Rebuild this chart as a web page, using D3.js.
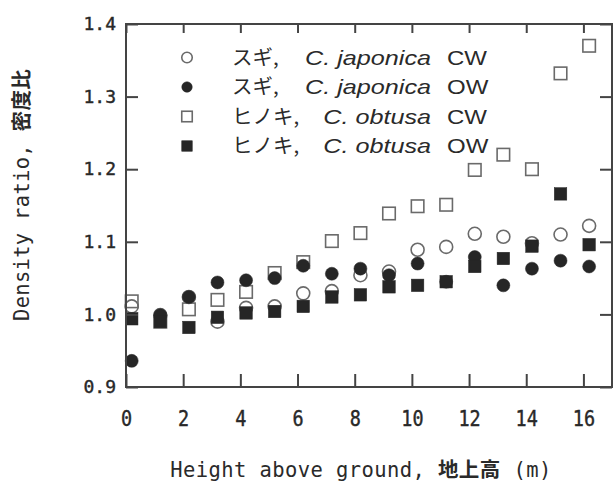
<!DOCTYPE html>
<html>
<head>
<meta charset="utf-8">
<script src="https://cdn.jsdelivr.net/npm/d3@7"></script>
<style>
  body { margin: 0; background: #fff; }
  text { fill: #2a2a2a; }
</style>
</head>
<body>
<div id="chart"></div>
<script>
// heights above ground (m)
const HEIGHTS = [0.2, 1.2, 2.2, 3.2, 4.2, 5.2, 6.2, 7.2, 8.2, 9.2, 10.2, 11.2, 12.2, 13.2, 14.2, 15.2, 16.2];
// density ratios
const JAPONICA_CW = [1.011, 0.999, 1.024, 0.990, 1.009, 1.011, 1.029, 1.032, 1.054, 1.059, 1.089, 1.093, 1.111, 1.107, 1.098, 1.110, 1.122];
const JAPONICA_OW = [0.936, 0.999, 1.024, 1.044, 1.047, 1.050, 1.067, 1.056, 1.063, 1.054, 1.070, 1.045, 1.079, 1.040, 1.063, 1.074, 1.066];
const OBTUSA_CW   = [1.018, 0.990, 1.007, 1.020, 1.031, 1.057, 1.072, 1.101, 1.112, 1.139, 1.149, 1.151, 1.199, 1.220, 1.200, 1.332, 1.370];
const OBTUSA_OW   = [0.994, 0.990, 0.982, 0.996, 1.002, 1.004, 1.011, 1.024, 1.027, 1.038, 1.040, 1.045, 1.066, 1.077, 1.094, 1.166, 1.096];

const X_TICKS = [0, 2, 4, 6, 8, 10, 12, 14, 16];
const Y_TICKS = [0.9, 1.0, 1.1, 1.2, 1.3, 1.4];

const LEGEND_JA = ["スギ,", "スギ,", "ヒノキ,", "ヒノキ,"];
const LEGEND_SP = ["C. japonica", "C. japonica", "C. obtusa", "C. obtusa"];
const LEGEND_WOOD = ["CW", "OW", "CW", "OW"];

/* ---------------------------------- */
const W = 615, H = 482;
const M = {left: 126, right: 612, top: 24, bottom: 387};
const MONO = "'DejaVu Sans Mono', 'Noto Sans CJK JP', monospace";

const x = d3.scaleLinear().domain([0, 17]).range([M.left, M.right]);
const y = d3.scaleLinear().domain([0.9, 1.4]).range([M.bottom, M.top]);

const svg = d3.select("#chart").append("svg")
              .attr("width", W)
              .attr("height", H);

// series, open ones first so that filled marks sit on top
const series = [
    {vals: JAPONICA_CW, shape: "circle", filled: false},
    {vals: OBTUSA_CW,   shape: "square", filled: false},
    {vals: JAPONICA_OW, shape: "circle", filled: true},
    {vals: OBTUSA_OW,   shape: "square", filled: true},
];

var drawMark = function(g, shape, filled, size){
    var el;
    if (shape === "circle") {
        el = g.append("circle").attr("r", size/2);
    } else {
        el = g.append("rect").attr("x", -size/2).attr("y", -size/2)
              .attr("width", size).attr("height", size);
    }
    if (filled) {
        el.attr("fill", "#262626").attr("stroke", "#262626").attr("stroke-width", 0.5);
    } else {
        el.attr("fill", "none").attr("stroke", "#6a6a6a").attr("stroke-width", 1.6);
    }
};

const marks = svg.append("g");
series.forEach(function(s){
    s.vals.forEach(function(v, i){
        var g = marks.append("g")
                     .attr("transform", "translate("+x(HEIGHTS[i])+","+y(v)+")");
        drawMark(g, s.shape, s.filled, s.shape === "circle" ? 13 : 12.5);
    });
});

// axes, ticks pointing inward
var styleAxis = function(g){
    g.select(".domain").remove();
    g.selectAll("line").attr("stroke", "#444").attr("stroke-width", 2);
};

svg.append("g")
   .attr("transform", "translate("+M.left+",0)")
   .call(d3.axisLeft(y).tickValues(Y_TICKS).tickFormat(d3.format(".1f"))
           .tickSizeInner(-12).tickSizeOuter(0).tickPadding(10))
   .call(styleAxis)
   .selectAll("text")
   .attr("font-family", MONO).attr("font-size", 18).attr("fill", "#222")
   .attr("stroke", "#222").attr("stroke-width", 0.4);

svg.append("g")
   .attr("transform", "translate("+M.right+",0)")
   .call(d3.axisRight(y).tickValues(Y_TICKS).tickFormat("")
           .tickSizeInner(-12).tickSizeOuter(0))
   .call(styleAxis);

svg.append("g")
   .attr("transform", "translate(0,"+M.bottom+")")
   .call(d3.axisBottom(x).tickValues(X_TICKS).tickFormat(d3.format("d"))
           .tickSizeInner(-13).tickSizeOuter(0).tickPadding(24))
   .call(styleAxis)
   .selectAll("text")
   .attr("font-family", MONO).attr("font-size", 21).attr("fill", "#222")
   .attr("stroke", "#222").attr("stroke-width", 0.4)
   .attr("transform", "scale(0.88,1)");

svg.append("g")
   .attr("transform", "translate(0,"+M.top+")")
   .call(d3.axisTop(x).tickValues(X_TICKS).tickFormat("")
           .tickSizeInner(-9).tickSizeOuter(0))
   .call(styleAxis);

// frame
svg.append("rect")
   .attr("x", M.left).attr("y", M.top)
   .attr("width", M.right-M.left).attr("height", M.bottom-M.top)
   .attr("fill", "none").attr("stroke", "#444").attr("stroke-width", 2);

// axis titles
const xt = svg.append("text")
              .attr("x", 361).attr("y", 477)
              .attr("text-anchor", "middle")
              .attr("font-family", MONO).attr("font-size", 20.5)
              .attr("letter-spacing", 0.4);
xt.append("tspan").text("Height above ground, ");
xt.append("tspan").attr("font-weight", "bold").attr("font-family", "'Noto Sans CJK JP'").text("地上高");
xt.append("tspan").text(" (m)");

const yt = svg.append("text")
              .attr("transform", "translate(28.5,195) rotate(-90)")
              .attr("text-anchor", "middle")
              .attr("font-family", MONO).attr("font-size", 20.5)
              .attr("letter-spacing", 0.3);
yt.append("tspan").text("Density ratio, ");
yt.append("tspan").attr("font-weight", "bold").attr("font-family", "'Noto Sans CJK JP'").text("密度比");

// legend
const LEG_Y = [57.5, 87, 116.5, 146];
const legend = svg.append("g");
[JAPONICA_CW, JAPONICA_OW, OBTUSA_CW, OBTUSA_OW].forEach(function(vals, i){
    var s = series.find((d) => d.vals === vals);
    var g = legend.append("g").attr("transform", "translate(187,"+LEG_Y[i]+")");
    drawMark(g, s.shape, s.filled, 10.5);
    legend.append("text")
          .attr("transform", "translate(232,"+(LEG_Y[i]+7)+")")
          .attr("font-family", "'Noto Sans CJK JP'")
          .attr("font-size", 20.5)
          .text(LEGEND_JA[i]);
    legend.append("text")
          .attr("transform", "translate(431,"+(LEG_Y[i]+7)+") scale(1.26,1)")
          .attr("text-anchor", "end")
          .attr("font-family", "'Liberation Sans', Arial, sans-serif")
          .attr("font-style", "italic")
          .attr("font-size", 20)
          .text(LEGEND_SP[i]);
    legend.append("text")
          .attr("transform", "translate(447,"+(LEG_Y[i]+7)+") scale(1.2,1)")
          .attr("font-family", "'Liberation Sans', Arial, sans-serif")
          .attr("font-size", 20)
          .text(LEGEND_WOOD[i]);
});
</script>
</body>
</html>
